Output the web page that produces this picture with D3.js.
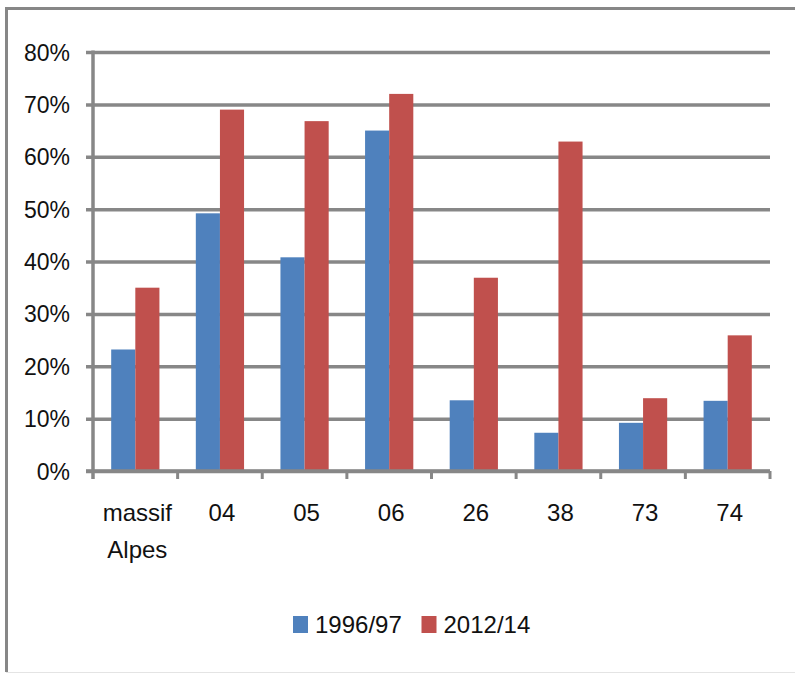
<!DOCTYPE html>
<html>
<head>
<meta charset="utf-8">
<style>
  body { margin: 0; padding: 0; background: white; }
  text { font-family: "Liberation Sans", Arial, sans-serif; fill: #111; }
</style>
</head>
<body>
<svg id="chart" width="795" height="676"></svg>
<script src="https://cdnjs.cloudflare.com/ajax/libs/d3/7.8.5/d3.min.js"></script>
<script>
  var categories = ["massif Alpes", "04", "05", "06", "26", "38", "73", "74"];
  var series = ["1996/97", "2012/14"];
  var values1996 = [0.232, 0.492, 0.408, 0.650, 0.135, 0.073, 0.092, 0.134];
  var values2012 = [0.350, 0.690, 0.668, 0.720, 0.369, 0.629, 0.139, 0.259];
  var yTicks = [0, 0.1, 0.2, 0.3, 0.4, 0.5, 0.6, 0.7, 0.8];
  var colors = ["#4f81bd", "#c0504d"];

  var svg = d3.select("#chart");
  var plotLeft = 93, plotRight = 770, plotTop = 52, plotBottom = 471;
  var grid = "#878787";

  // outer frame (cropped screenshot of an Excel chart)
  svg.append("line").attr("x1", 6).attr("x2", 795).attr("y1", 8.5).attr("y2", 8.5)
    .attr("stroke", grid).attr("stroke-width", 3);
  svg.append("line").attr("x1", 6.5).attr("x2", 6.5).attr("y1", 7).attr("y2", 672)
    .attr("stroke", grid).attr("stroke-width", 3);
  svg.append("line").attr("x1", 6).attr("x2", 795).attr("y1", 672.5).attr("y2", 672.5)
    .attr("stroke", "#e4e4e4").attr("stroke-width", 1);

  var y = d3.scaleLinear().domain([0, 0.8]).range([plotBottom, plotTop]);
  var x0 = d3.scaleBand().domain(categories).range([plotLeft, plotRight]).padding(0);
  var x1 = d3.scaleBand().domain(series)
    .range([x0.bandwidth() * 0.215, x0.bandwidth() * 0.785]).padding(0);

  // gridlines + y labels
  var yAxis = d3.axisLeft(y).tickValues(yTicks).tickSize(plotRight - plotLeft + 7)
    .tickFormat(d3.format(".0%")).tickPadding(16);
  var gy = svg.append("g").attr("transform", "translate(" + plotRight + ",0)").call(yAxis);
  gy.select(".domain").remove();
  gy.selectAll(".tick line").attr("stroke", grid).attr("stroke-width", 3.5);
  gy.selectAll(".tick text").style("font-size", "23px").attr("dy", "0.35em")
    .style("font-family", "'Liberation Sans', Arial, sans-serif").attr("fill", "#111");

  var rows = categories.map(function (c, i) {
    return { cat: c, vals: [values1996[i], values2012[i]] };
  });

  var groups = svg.append("g").selectAll("g").data(rows).enter().append("g")
    .attr("transform", function (d) { return "translate(" + x0(d.cat) + ",0)"; });
  groups.selectAll("rect")
    .data(function (d) { return d.vals.map(function (v, j) { return { s: series[j], v: v, j: j }; }); })
    .enter().append("rect")
    .attr("x", function (d) { return x1(d.s); })
    .attr("width", x1.bandwidth())
    .attr("y", function (d) { return y(d.v); })
    .attr("height", function (d) { return y(0) - y(d.v); })
    .attr("fill", function (d) { return colors[d.j]; });

  // axis lines
  svg.append("line").attr("x1", plotLeft).attr("x2", plotLeft).attr("y1", plotTop - 1.5).attr("y2", plotBottom + 8)
    .attr("stroke", grid).attr("stroke-width", 3.5);
  svg.append("line").attr("x1", plotLeft - 7).attr("x2", plotRight).attr("y1", plotBottom).attr("y2", plotBottom)
    .attr("stroke", grid).attr("stroke-width", 3.5);
  svg.append("g").selectAll("line").data(categories).enter().append("line")
    .attr("x1", function (d) { return x0(d) + x0.bandwidth(); })
    .attr("x2", function (d) { return x0(d) + x0.bandwidth(); })
    .attr("y1", plotBottom).attr("y2", plotBottom + 8)
    .attr("stroke", grid).attr("stroke-width", 3);

  // x labels
  var xl = svg.append("g").selectAll("text").data(categories).enter().append("text")
    .attr("text-anchor", "middle")
    .attr("transform", function (d) { return "translate(" + (x0(d) + x0.bandwidth() / 2 + 2) + ",521)"; })
    .style("font-size", "24px");
  xl.each(function (d) {
    var parts = d.split(" ");
    var t = d3.select(this);
    parts.forEach(function (p, i) {
      t.append("tspan").attr("x", 0).attr("y", i * 37).text(p);
    });
  });

  // legend
  var legend = svg.append("g").selectAll("g").data(series).enter().append("g")
    .attr("transform", function (d, i) { return "translate(" + (293 + i * 128.5) + ",616)"; });
  legend.append("rect").attr("width", 15).attr("height", 17)
    .attr("fill", function (d, i) { return colors[i]; });
  legend.append("text").attr("x", 22).attr("y", 17).style("font-size", "24px")
    .text(function (d) { return d; });
</script>
</body>
</html>
